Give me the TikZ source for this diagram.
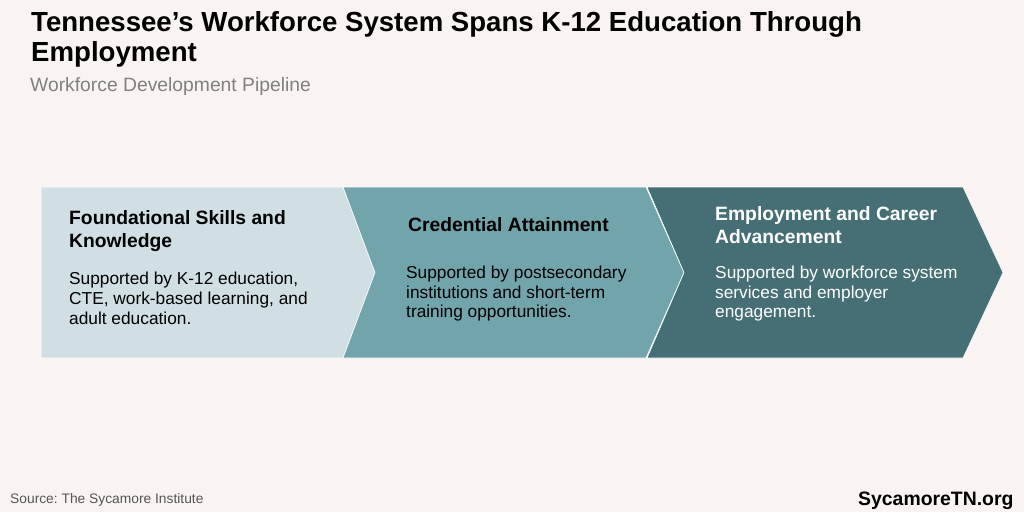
\documentclass[tikz,border=0pt]{standalone}
\usepackage{fontspec}
\setmainfont{Liberation Sans}
\frenchspacing
\definecolor{paper}{HTML}{F9F4F1}
\definecolor{paleblue}{HTML}{CFDFE3}
\definecolor{midteal}{HTML}{72A4AC}
\definecolor{darkteal}{HTML}{456F75}
\definecolor{subgray}{HTML}{808080}
\definecolor{srcgray}{HTML}{555555}

\begin{document}
\begin{tikzpicture}[x=1pt,y=-1pt,
    title/.style={font=\bfseries\fontsize{27.6}{29.5}\selectfont},
    subtitle/.style={text=subgray, font=\fontsize{19.3}{22}\selectfont},
    heading/.style={font=\bfseries\fontsize{19.3}{23}\selectfont},
    body/.style={font=\fontsize{17.3}{19.6}\selectfont},
    arrowbox/.style={draw=white, line width=0.6pt}]
  \tikzstyle{every node}+=[inner sep=0pt, anchor=base west, align=left]
  \useasboundingbox (0,0) rectangle (1024,512);
  \fill [paper] (0,0) rectangle (1024,512);
  \draw (31,61) node[title] (title) {Tennessee’s Workforce System Spans K-12 Education Through\\Employment};
  \draw (30,91.7) node[subtitle] (subtitle) {Workforce Development Pipeline};
  \filldraw [arrowbox, fill=paleblue] (41,187) -- (343,187) -- (375,272.5) -- (343,358) -- (41,358) -- cycle;
  \filldraw [arrowbox, fill=midteal] (343,187) -- (646,187) -- (684,272.5) -- (646,358) -- (343,358) -- (375,272.5) -- cycle;
  \filldraw [arrowbox, fill=darkteal] (647,187) -- (963,187) -- (1003,272.5) -- (963,358) -- (647,358) -- (684,272.5) -- cycle;
  \draw (69,247.5) node[heading] (skills) {Foundational Skills and\\Knowledge};
  \draw (69,324) node[body] (skillsText) {Supported by K-12 education,\\CTE, work-based learning, and\\adult education.};
  \draw (408,231.7) node[heading] (credential) {Credential Attainment};
  \draw (406,317.7) node[body] (credentialText) {Supported by postsecondary\\institutions and short-term\\training opportunities.};
  \draw (715,243.3) node[heading, text=white] (employment) {Employment and Career\\Advancement};
  \draw (715,317.7) node[body, text=white] (employmentText) {Supported by workforce system\\services and employer\\engagement.};
  \draw (10,503) node[text=srcgray, font=\fontsize{13.8}{16}\selectfont] (source) {Source: The Sycamore Institute};
  \draw (858,505) node[font=\bfseries\fontsize{19.4}{22}\selectfont] (site) {SycamoreTN.org};
\end{tikzpicture}
\end{document}
